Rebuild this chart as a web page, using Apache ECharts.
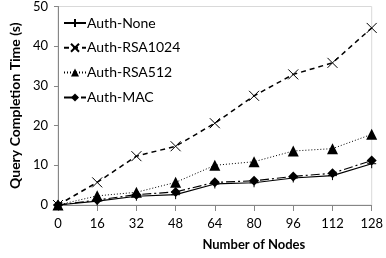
<!DOCTYPE html>
<html><head><meta charset="utf-8">
<script src="https://cdn.jsdelivr.net/npm/echarts@6/dist/echarts.min.js"></script>
<style>html,body{margin:0;padding:0;background:#fff}#c{width:386px;height:258px}</style>
</head><body><div id="c"></div>
<script>
const categories = ['0','16','32','48','64','80','96','112','128'];
const authNone = [0, 1.0, 2.2, 2.6, 5.3, 5.6, 6.8, 7.4, 10.4];
const authRSA1024 = [0, 5.7, 12.3, 14.8, 20.6, 27.5, 32.9, 35.8, 44.6];
const authRSA512 = [0, 2.3, 3.2, 5.7, 10.0, 10.9, 13.6, 14.2, 17.8];
const authMAC = [0, 1.25, 2.6, 3.3, 5.7, 6.1, 7.2, 8.0, 11.2];
const yTicks = [0, 10, 20, 30, 40, 50];

const font = 'Lato, "Open Sans", sans-serif';
const plusPath = 'path://M0,5L10,5M5,0L5,10';
const crossPath = 'path://M0,0L10,10M10,0L0,10';

function mk(name, data, lineType, symbol, size, lw) {
  const isPath = symbol.startsWith('path');
  return {
    name, type: 'line', data, symbol, symbolSize: size,
    showAllSymbol: true,
    lineStyle: { color: '#000', width: lw, type: lineType },
    itemStyle: { color: isPath ? 'rgba(0,0,0,0)' : '#000', borderColor: '#000', borderWidth: isPath ? 1 : 0 },
    emphasis: { disabled: true },
    animation: false
  };
}

const chart = echarts.init(document.getElementById('c'));
chart.setOption({
  animation: false,
  grid: { left: 57, right: 8, top: 6, bottom: 53, show: true, borderColor: '#d9d9d9', borderWidth: 1 },
  legend: {
    orient: 'vertical', left: 58, top: 11, itemGap: 10.8, itemWidth: 22, itemHeight: 10,
    textStyle: { fontFamily: font, fontSize: 14, color: '#000', padding: [0,0,0,-4] },
    data: ['Auth-None', 'Auth-RSA1024', 'Auth-RSA512', 'Auth-MAC']
  },
  xAxis: {
    type: 'category', data: categories, boundaryGap: false,
    name: 'Number of Nodes', nameLocation: 'middle', nameGap: 33,
    nameTextStyle: { fontFamily: font, fontSize: 13, fontWeight: 'bold', color: '#000', padding: [0,0,0,78] },
    axisLine: { lineStyle: { color: '#868686' } },
    axisTick: { show: true, length: 6, lineStyle: { color: '#868686' }, alignWithLabel: true },
    axisLabel: { fontFamily: font, fontSize: 13, color: '#000', margin: 12, interval: 0, alignMaxLabel: 'center', alignMinLabel: 'center' }
  },
  yAxis: {
    type: 'value', min: 0, max: 50, interval: 10,
    name: 'Query Completion Time (s)', nameLocation: 'middle', nameGap: 32,
    nameTextStyle: { fontFamily: font, fontSize: 14, fontWeight: 'bold', color: '#000' },
    axisLine: { show: true, lineStyle: { color: '#868686' } },
    axisTick: { show: true, length: 4, lineStyle: { color: '#868686' } },
    splitLine: { show: false },
    axisLabel: { fontFamily: font, fontSize: 13, color: '#000', margin: 10,
      formatter: v => yTicks.includes(v) ? String(v) : '' }
  },
  series: [
    mk('Auth-None', authNone, 'solid', plusPath, 9, 1.2),
    mk('Auth-RSA1024', authRSA1024, [5, 4], crossPath, 10, 1.5),
    mk('Auth-RSA512', authRSA512, [1, 2], 'triangle', 11, 1),
    mk('Auth-MAC', authMAC, [9, 3, 2, 3], 'diamond', 10, 1.2)
  ]
});
</script></body></html>
